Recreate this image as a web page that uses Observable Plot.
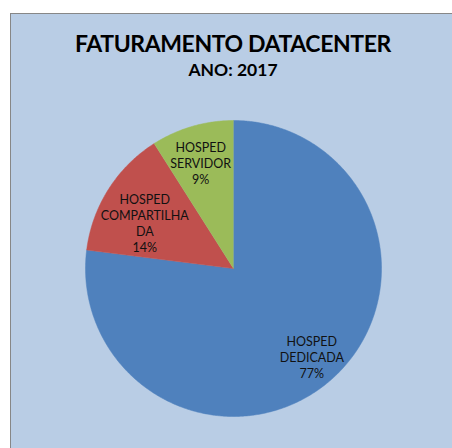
<!DOCTYPE html>
<html><head><meta charset="utf-8">
<script src="https://cdn.jsdelivr.net/npm/d3@7"></script>
<script src="https://cdn.jsdelivr.net/npm/@observablehq/plot@0.6"></script>
<style>
html,body{margin:0;padding:0;background:#fff;}
#wrap{position:relative;width:452px;height:448px;overflow:hidden;font-family:Lato,"Open Sans",sans-serif;}
#bg{position:absolute;left:10px;top:13px;width:470px;height:470px;background:#B9CDE5;border:1px solid #878787;box-sizing:border-box;}
#title{position:absolute;left:10px;width:446px;top:28px;text-align:center;font-weight:bold;font-size:23px;line-height:30px;color:#000;letter-spacing:-0.4px;}
#subtitle{position:absolute;left:10px;width:446px;top:60px;text-align:center;font-weight:bold;font-size:17.5px;line-height:20px;color:#000;}
#chart{position:absolute;left:0;top:90px;}
</style>
</head><body>
<div id="wrap">
  <div id="bg"></div>
  <div id="title">FATURAMENTO DATACENTER</div>
  <div id="subtitle">ANO: 2017</div>
  <div id="chart"></div>
</div>
<script>
const categories = ["HOSPED DEDICADA", "HOSPED COMPARTILHADA", "HOSPED SERVIDOR"];
const shares = [77, 14, 9];
const labels = ["HOSPED\nDEDICADA\n77%", "HOSPED\nCOMPARTILHA\nDA\n14%", "HOSPED\nSERVIDOR\n9%"];
const colors = ["#4F81BD", "#C0504D", "#9BBB59"];

// layout: radial fraction and angle shift (degrees) for each label
const labelRadius = [0.8, 0.675, 0.75];
const labelShift = [0, -5, -1];

const total = d3.sum(shares);
let acc = 0;
const slices = shares.map((v, i) => {
  const a0 = acc / total * 2 * Math.PI; acc += v;
  const a1 = acc / total * 2 * Math.PI;
  return {i, cat: categories[i], a0, a1};
});
const slicePoints = s => {
  const n = Math.max(2, Math.ceil((s.a1 - s.a0) / (Math.PI / 360)));
  const arr = [{x: 0, y: 0}];
  for (let k = 0; k <= n; k++) {
    const a = s.a0 + (s.a1 - s.a0) * k / n;
    arr.push({x: Math.sin(a), y: Math.cos(a)});
  }
  return arr;
};
const labelData = slices.map(s => {
  const m = (s.a0 + s.a1) / 2 + labelShift[s.i] * Math.PI / 180, r = labelRadius[s.i];
  return {x: r * Math.sin(m), y: r * Math.cos(m), text: labels[s.i]};
});

const plot = Plot.plot({
  width: 452, height: 358,
  marginLeft: 85, marginRight: 71, marginTop: 30, marginBottom: 32,
  x: {domain: [-1, 1], axis: null},
  y: {domain: [-1, 1], axis: null},
  style: {background: "transparent", overflow: "visible"},
  marks: [
    ...slices.map(s => Plot.line(slicePoints(s), {x: "x", y: "y", fill: colors[s.i], stroke: colors[s.i], strokeWidth: 0.5})),
    Plot.text(labelData, {x: "x", y: "y", text: "text", fontSize: 12.5, lineHeight: 1.28, fill: "#111", fontFamily: "Lato, 'Open Sans', sans-serif"})
  ]
});
document.getElementById("chart").appendChild(plot);
</script>
</body></html>
